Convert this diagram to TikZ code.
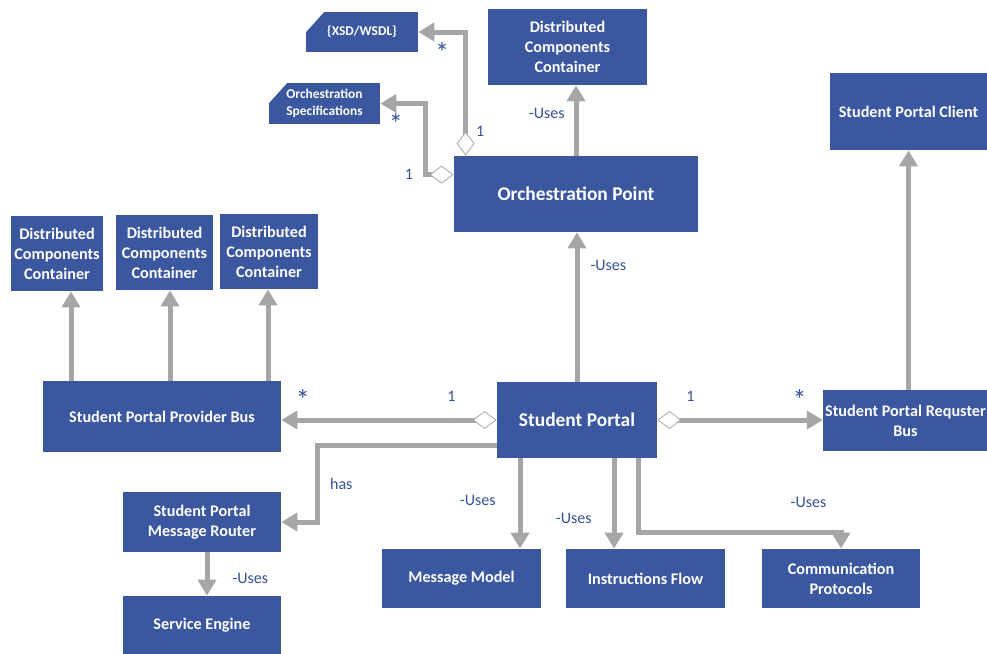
\documentclass[tikz,border=0pt]{standalone}
\usepackage{fontspec}
\setmainfont{Carlito}
\usetikzlibrary{arrows.meta}
\definecolor{boxblue}{HTML}{3B57A0}
\definecolor{linegray}{HTML}{A6A6A6}
\definecolor{textblue}{HTML}{34509A}

\begin{document}
\begin{tikzpicture}[x=0.5pt, y=-0.5pt,
  box/.style = {rectangle, fill=boxblue, text=white, align=center, inner sep=1pt,
    font=\fontsize{8.1}{10}\selectfont\bfseries},
  bigbox/.style = {box, font=\fontsize{9.7}{12}\selectfont\bfseries},
  tagbox/.style = {box, font=\fontsize{6.7}{8.2}\selectfont\bfseries,
    path picture={\fill[white] (path picture bounding box.north west)
      -- ++(9pt,0) -- ++(-9pt,-10pt) -- cycle;}},
  conn/.style = {draw=linegray, line width=2.5pt, -{Triangle[length=8pt, width=9pt]}},
  agg/.style = {conn, {Diamond[fill=white, line width=0.4pt, length=12pt, width=9pt]}-{Triangle[length=8pt, width=9pt]}},
  lbl/.style = {text=textblue, inner sep=1pt, font=\fontsize{8}{10}\selectfont},
  many/.style = {text=textblue, inner sep=0pt, font=\fontsize{14}{14}\selectfont}]
  \useasboundingbox (0,0) rectangle (987,654);

  \node[tagbox, minimum width=56pt, minimum height=20pt] (xsd) at (362,32) {\{XSD/WSDL\}};
  \node[tagbox, minimum width=55.5pt, minimum height=20.5pt] (ospec) at (324.5,103.5) {Orchestration\\Specifications};
  \node[box, minimum width=79.5pt, minimum height=38pt] (dcctop) at (567.5,47) {Distributed\\Components\\Container};
  \node[box, minimum width=78.5pt, minimum height=38.5pt] (client) at (908.5,111.5) {Student Portal Client};
  \node[bigbox, minimum width=122pt, minimum height=38pt] (op) at (576,194) {Orchestration Point};
  \node[box, minimum width=46pt, minimum height=37.5pt] (dcc1) at (57,253.5) {Distributed\\Components\\Container};
  \node[box, minimum width=48.5pt, minimum height=37.5pt] (dcc2) at (164.5,252.5) {Distributed\\Components\\Container};
  \node[box, minimum width=49pt, minimum height=37.5pt] (dcc3) at (269,251.5) {Distributed\\Components\\Container};
  \node[box, minimum width=119pt, minimum height=35.5pt] (pbus) at (162,416.5) {Student Portal Provider Bus};
  \node[bigbox, minimum width=80pt, minimum height=38pt] (sp) at (577,420) {Student Portal};
  \node[box, minimum width=81.5pt, minimum height=30.5pt] (rbus) at (905.5,420.5) {Student Portal Requster\\Bus};
  \node[box, minimum width=79pt, minimum height=30pt] (router) at (202,522) {Student Portal\\Message Router};
  \node[box, minimum width=79pt, minimum height=29pt] (engine) at (202,625) {Service Engine};
  \node[box, minimum width=79.5pt, minimum height=29.5pt] (mmodel) at (461.5,578.5) {Message Model};
  \node[box, minimum width=79.5pt, minimum height=29.5pt] (iflow) at (645.5,578.5) {Instructions Flow};
  \node[box, minimum width=79pt, minimum height=29.5pt] (cprot) at (841,578.5) {Communication\\Protocols};

  \draw[conn] (op.north) -- node[lbl, pos=0.6, left=3.5pt] {-Uses} (op.north |- dcctop.south);
  \draw[conn] (sp.north) -- node[lbl, pos=0.78, right=4.5pt] {-Uses} (sp.north |- op.south);
  \draw[conn] (client.south |- rbus.north) -- (client.south);
  \draw[agg] (sp.west) -- node[lbl, pos=0.21, above=7pt] {1}
    node[many, pos=0.9, above=4pt] {*} (sp.west -| pbus.east);
  \draw[agg] (sp.east) -- node[lbl, pos=0.2, above=7pt] {1}
    node[many, pos=0.86, above=4pt] {*} (sp.east -| rbus.west);
  \draw[conn] ([yshift=-12.5pt]sp.west) -- ++(-179,0)
    |- node[lbl, pos=0.25, right=4pt] {has} (router.east);
  \draw[conn] ([xshift=-28.5pt]sp.south) -- node[lbl, pos=0.47, left=10pt] {-Uses}
    ([xshift=-28.5pt]sp.south |- mmodel.north);
  \draw[conn] ([xshift=18.5pt]sp.south) -- node[lbl, pos=0.67, left=9pt] {-Uses}
    ([xshift=18.5pt]sp.south |- iflow.north);
  \draw[conn] ([xshift=30.5pt]sp.south) |- node[lbl, pos=0.92, above=10pt] {-Uses}
    ([yshift=8pt]cprot.north) -- (cprot.north);
  \draw[conn] ([xshift=2.5pt]router.south) -- node[lbl, pos=0.6, right=10.5pt] {-Uses}
    ([xshift=2.5pt]engine.north);
  \foreach \b/\dx in {dcc1/7pt, dcc2/2.75pt, dcc3/-0.5pt}
    \draw[conn] ([xshift=\dx]\b.south |- pbus.north) -- ([xshift=\dx]\b.south);
  \draw[agg] ([xshift=6pt]op.north west) |- node[lbl, pos=0.1, right=3pt] {1}
    node[many, pos=0.75, below=4pt] {*} (xsd.east);
  \draw[agg] ([yshift=-9.5pt]op.north west) -- ++(-28,0) node[lbl, left=4pt] {1}
    |- node[many, pos=0.83, below=4pt] {*} (ospec.east);
\end{tikzpicture}
\end{document}
